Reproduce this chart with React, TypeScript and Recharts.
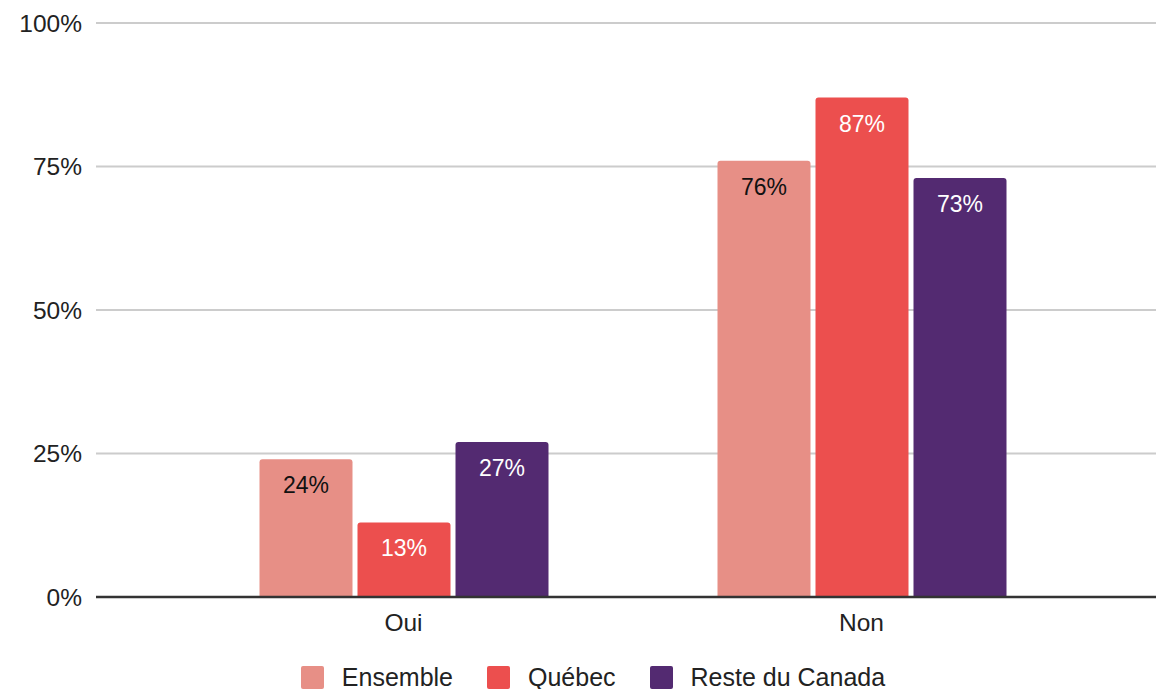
import { Bar, BarChart, CartesianGrid, LabelList, XAxis, YAxis } from "recharts";

const categories = ["Oui", "Non"];
const ensemble = [24, 76];
const quebec = [13, 87];
const resteDuCanada = [27, 73];
const yTicks = [0, 25, 50, 75, 100];

const series = [
  { key: "ensemble", name: "Ensemble", color: "#e78f86", labelColor: "#111111" },
  { key: "quebec", name: "Québec", color: "#ec4f4e", labelColor: "#ffffff" },
  { key: "reste", name: "Reste du Canada", color: "#532a71", labelColor: "#ffffff" },
];

const data = categories.map((c, i) => ({
  name: c,
  ensemble: ensemble[i],
  quebec: quebec[i],
  reste: resteDuCanada[i],
}));

const FONT = "'Liberation Sans', Arial, sans-serif";

function makeLabel(color: string) {
  // eslint-disable-next-line @typescript-eslint/no-explicit-any
  return (props: any) => {
    const { x, y, width, value } = props;
    return (
      <text
        x={x + width / 2}
        y={y + 26}
        textAnchor="middle"
        dominantBaseline="central"
        fill={color}
        fontSize={23}
        fontFamily={FONT}
      >
        {value}%
      </text>
    );
  };
}

export default function App() {
  return (
    <div style={{ position: "absolute", left: 0, top: 0, width: 1156, height: 689, background: "#fff" }}>
      <BarChart
        width={1156}
        height={689}
        data={data}
        margin={{ top: 23, right: 0, left: 0, bottom: 52 }}
        barCategoryGap="18.45%"
        barGap={5}
      >
        <CartesianGrid vertical={false} stroke="#cccccc" strokeWidth={1.8} />
        <XAxis
          dataKey="name"
          height={40}
          padding={{ left: 78.5, right: 65.5 }}
          tickLine={false}
          axisLine={{ stroke: "#333333", strokeWidth: 2.5 }}
          tick={{ fontSize: 24.5, fill: "#222", fontFamily: FONT }}
          tickMargin={11}
        />
        <YAxis
          width={96}
          domain={[0, 100]}
          ticks={yTicks}
          tickFormatter={(v) => `${v}%`}
          axisLine={false}
          tickLine={false}
          tickMargin={8}
          tick={{ fontSize: 24.5, fill: "#222", fontFamily: FONT }}
        />
        {series.map((s) => (
          <Bar
            key={s.key}
            dataKey={s.key}
            name={s.name}
            fill={s.color}
            barSize={93}
            radius={[3, 3, 0, 0]}
            isAnimationActive={false}
          >
            <LabelList dataKey={s.key} content={makeLabel(s.labelColor)} />
          </Bar>
        ))}
      </BarChart>
      <div
        style={{
          position: "absolute",
          top: 664,
          left: 15,
          width: 1156,
          display: "flex",
          justifyContent: "center",
          fontFamily: FONT,
          fontSize: 25,
          color: "#222",
        }}
      >
        {series.map((s, i) => (
          <div
            key={s.key}
            style={{ display: "flex", alignItems: "center", marginLeft: i === 0 ? 0 : 34 }}
          >
            <span
              style={{ width: 23, height: 23, background: s.color, borderRadius: 2, marginRight: 18 }}
            />
            <span style={{ lineHeight: "27px" }}>{s.name}</span>
          </div>
        ))}
      </div>
    </div>
  );
}
